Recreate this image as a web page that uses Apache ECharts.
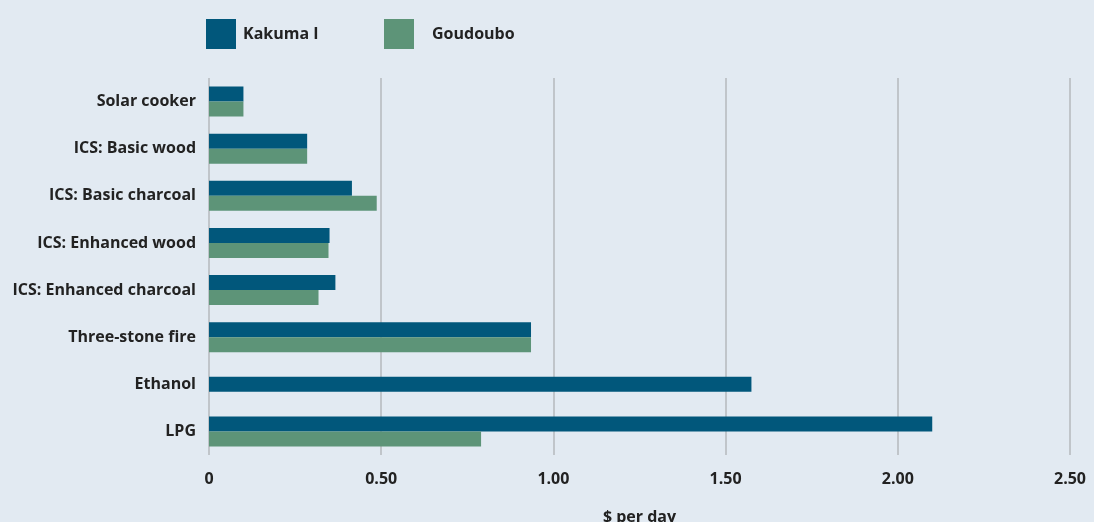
<!DOCTYPE html>
<html>
<head>
<meta charset="utf-8">
<script src="https://cdn.jsdelivr.net/npm/echarts@6/dist/echarts.min.js"></script>
<style>
  html, body { margin: 0; padding: 0; background: #e2eaf2; }
  #chart { width: 1094px; height: 522px; }
</style>
</head>
<body>
<div id="chart"></div>
<script>
// 数据
const categories = ['Solar cooker', 'ICS: Basic wood', 'ICS: Basic charcoal', 'ICS: Enhanced wood',
  'ICS: Enhanced charcoal', 'Three-stone fire', 'Ethanol', 'LPG'];
const kakumaValues = [0.10, 0.285, 0.415, 0.35, 0.367, 0.935, null, 2.10];
const goudouboValues = [0.10, 0.285, 0.487, 0.347, 0.318, 0.935, null, 0.79];
// Ethanol只有Kakuma I，单独居中显示
const kakumaEthanolOnly = [null, null, null, null, null, null, 1.575, null];
const xTickLabels = ['0', '0.50', '1.00', '1.50', '2.00', '2.50'];

const fontFamily = '"Open Sans", sans-serif';
const textColor = '#222222';
const gridColor = '#b5b9bd';

const chart = echarts.init(document.getElementById('chart'));

const option = {
  backgroundColor: '#e2eaf2',
  animation: false,
  textStyle: { fontFamily: fontFamily },
  legend: [
    {
      data: ['Kakuma I'],
      left: 206, top: 19, padding: 0,
      icon: 'rect', itemWidth: 30, itemHeight: 30,
      textStyle: { color: textColor, fontSize: 16, fontWeight: 'bold', fontFamily: fontFamily, padding: [20, 0, 0, 2] }
    },
    {
      data: ['Goudoubo'],
      left: 384, top: 19, padding: 0,
      icon: 'rect', itemWidth: 30, itemHeight: 30,
      textStyle: { color: textColor, fontSize: 16, fontWeight: 'bold', fontFamily: fontFamily, padding: [20, 0, 0, 13] }
    }
  ],
  grid: { left: 209, right: 24, top: 78, bottom: 67, outerBoundsMode: 'none' },
  xAxis: {
    type: 'value',
    min: 0, max: 2.5, interval: 0.5,
    name: '$ per day',
    nameLocation: 'middle',
    nameGap: 54,
    nameTextStyle: { color: textColor, fontSize: 16, fontWeight: 'bold' },
    axisLine: { show: false },
    axisTick: { show: false },
    axisLabel: {
      color: textColor, fontSize: 16, fontWeight: 'bold', margin: 16,
      formatter: v => xTickLabels[Math.round(v / 0.5)]
    },
    splitLine: { show: true, lineStyle: { color: gridColor, width: 1.5 } }
  },
  yAxis: [
    {
      type: 'category',
      data: categories,
      inverse: true,
      axisLine: { show: false },
      axisTick: { show: false },
      axisLabel: { color: textColor, fontSize: 16, fontWeight: 'bold', margin: 13 }
    },
    {
      type: 'category',
      data: categories,
      inverse: true,
      show: false
    }
  ],
  series: [
    {
      name: 'Kakuma I', type: 'bar', yAxisIndex: 0,
      data: kakumaValues, barWidth: 15, barGap: '0%',
      itemStyle: { color: '#01577b' }
    },
    {
      name: 'Goudoubo', type: 'bar', yAxisIndex: 0,
      data: goudouboValues, barWidth: 15, barGap: '0%',
      itemStyle: { color: '#5d9478' }
    },
    {
      name: 'Kakuma I', type: 'bar', yAxisIndex: 1,
      data: kakumaEthanolOnly, barWidth: 15,
      itemStyle: { color: '#01577b' }
    }
  ]
};

chart.setOption(option);
</script>
</body>
</html>
